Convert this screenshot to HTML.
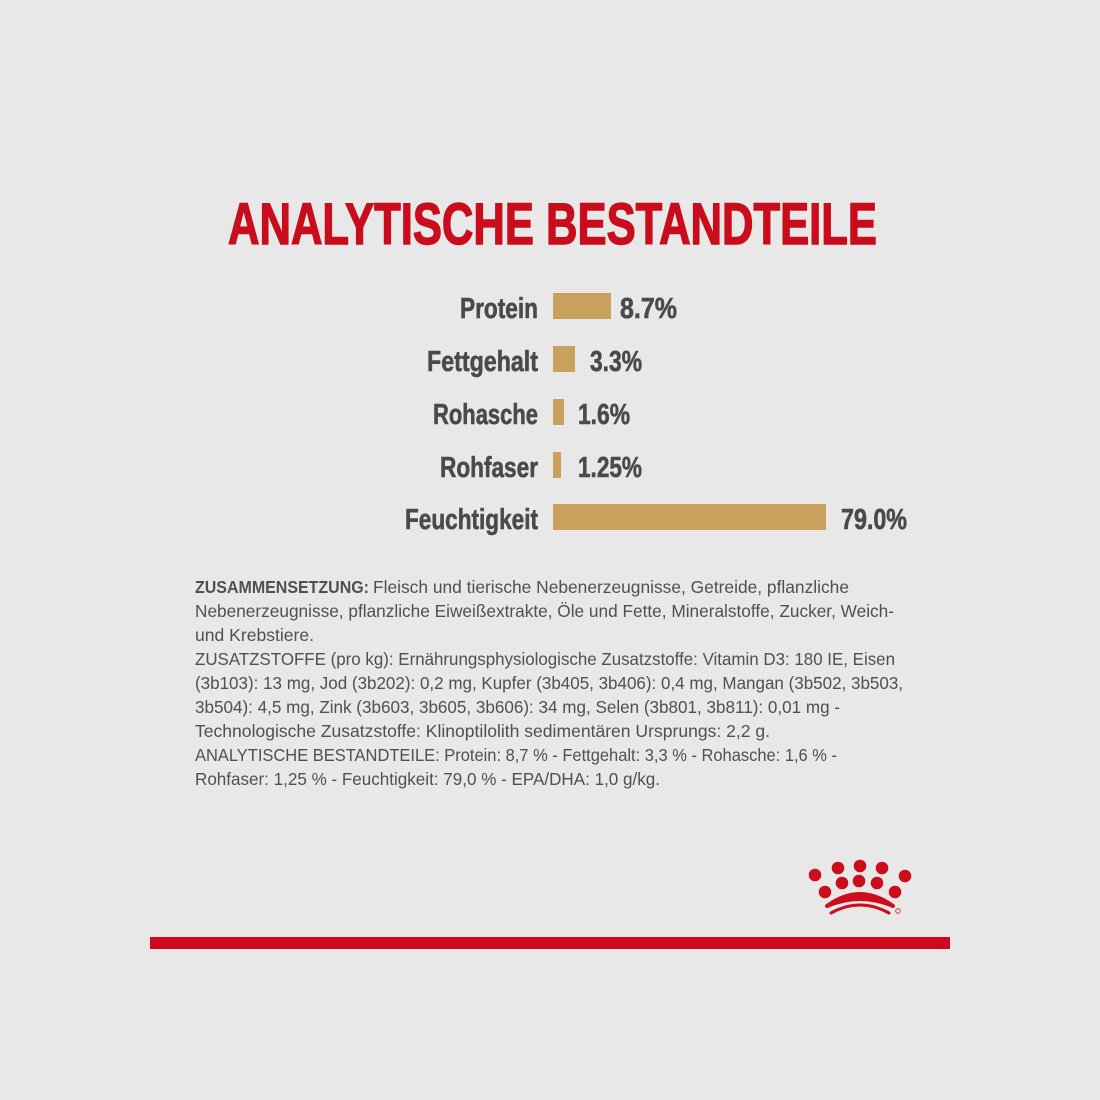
<!DOCTYPE html>
<html>
<head>
<meta charset="utf-8">
<style>
html,body{margin:0;padding:0;background:#e8e8e8;}
svg{display:block;}
</style>
</head>
<body>
<svg width="1100" height="1100" viewBox="0 0 1100 1100" xmlns="http://www.w3.org/2000/svg">
<rect x="0" y="0" width="1100" height="1100" fill="#e8e8e8"/>

<!-- Title -->
<text x="228" y="244" font-family="Liberation Sans, sans-serif" font-weight="bold" font-size="58" fill="#c90d1c" stroke="#c90d1c" stroke-width="1.4" textLength="649" lengthAdjust="spacingAndGlyphs">ANALYTISCHE BESTANDTEILE</text>

<!-- Bars -->
<g fill="#c9a15c">
<rect x="553" y="293" width="58" height="26"/>
<rect x="553" y="346" width="22" height="26"/>
<rect x="553" y="399" width="11" height="26"/>
<rect x="553" y="452" width="8" height="26"/>
<rect x="553" y="504" width="273" height="26"/>
</g>

<g font-family="Liberation Sans, sans-serif" font-weight="bold" font-size="29" fill="#4a4a4a" stroke="#4a4a4a" stroke-width="0.6">
<text x="460" y="318" textLength="78" lengthAdjust="spacingAndGlyphs">Protein</text>
<text x="427" y="371" textLength="111" lengthAdjust="spacingAndGlyphs">Fettgehalt</text>
<text x="433" y="424" textLength="105" lengthAdjust="spacingAndGlyphs">Rohasche</text>
<text x="440" y="477" textLength="98" lengthAdjust="spacingAndGlyphs">Rohfaser</text>
<text x="405" y="529" textLength="133" lengthAdjust="spacingAndGlyphs">Feuchtigkeit</text>

<text x="620" y="318" textLength="57" lengthAdjust="spacingAndGlyphs">8.7%</text>
<text x="590" y="371" textLength="52" lengthAdjust="spacingAndGlyphs">3.3%</text>
<text x="578" y="424" textLength="52" lengthAdjust="spacingAndGlyphs">1.6%</text>
<text x="578" y="477" textLength="64" lengthAdjust="spacingAndGlyphs">1.25%</text>
<text x="841" y="529" textLength="66" lengthAdjust="spacingAndGlyphs">79.0%</text>
</g>

<!-- Paragraph -->
<g font-family="Liberation Sans, sans-serif" font-size="17.5" fill="#505050">
<text x="195" y="593" font-weight="bold" textLength="174" lengthAdjust="spacingAndGlyphs">ZUSAMMENSETZUNG:</text>
<text x="373" y="593" textLength="476" lengthAdjust="spacingAndGlyphs">Fleisch und tierische Nebenerzeugnisse, Getreide, pflanzliche</text>
<text x="195" y="617" textLength="699" lengthAdjust="spacingAndGlyphs">Nebenerzeugnisse, pflanzliche Eiweißextrakte, Öle und Fette, Mineralstoffe, Zucker, Weich-</text>
<text x="195" y="641" textLength="119" lengthAdjust="spacingAndGlyphs">und Krebstiere.</text>
<text x="195" y="665" textLength="700" lengthAdjust="spacingAndGlyphs">ZUSATZSTOFFE (pro kg): Ernährungsphysiologische Zusatzstoffe: Vitamin D3: 180 IE, Eisen</text>
<text x="195" y="689" textLength="708" lengthAdjust="spacingAndGlyphs">(3b103): 13 mg, Jod (3b202): 0,2 mg, Kupfer (3b405, 3b406): 0,4 mg, Mangan (3b502, 3b503,</text>
<text x="195" y="713" textLength="645" lengthAdjust="spacingAndGlyphs">3b504): 4,5 mg, Zink (3b603, 3b605, 3b606): 34 mg, Selen (3b801, 3b811): 0,01 mg -</text>
<text x="195" y="737" textLength="575" lengthAdjust="spacingAndGlyphs">Technologische Zusatzstoffe: Klinoptilolith sedimentären Ursprungs: 2,2 g.</text>
<text x="195" y="761" textLength="642" lengthAdjust="spacingAndGlyphs">ANALYTISCHE BESTANDTEILE: Protein: 8,7 % - Fettgehalt: 3,3 % - Rohasche: 1,6 % -</text>
<text x="195" y="785" textLength="465" lengthAdjust="spacingAndGlyphs">Rohfaser: 1,25 % - Feuchtigkeit: 79,0 % - EPA/DHA: 1,0 g/kg.</text>
</g>

<!-- Crown logo -->
<g fill="#cc0d1c">
<circle cx="815" cy="875" r="6.3"/>
<circle cx="838" cy="868" r="6.3"/>
<circle cx="860" cy="866" r="6.3"/>
<circle cx="882" cy="868" r="6.3"/>
<circle cx="905" cy="876" r="6.3"/>
<circle cx="825" cy="892" r="6.3"/>
<circle cx="842" cy="883" r="6.3"/>
<circle cx="859" cy="881" r="6.3"/>
<circle cx="877" cy="883" r="6.3"/>
<circle cx="895" cy="892" r="6.3"/>
</g>
<path d="M827,906 Q860,882 893,906 Q860,892 827,906 Z" fill="#cc0d1c" stroke="#cc0d1c" stroke-width="4" stroke-linejoin="round"/>
<path d="M831,913 Q860,897 889,913" fill="none" stroke="#cc0d1c" stroke-width="3" stroke-linecap="round"/>
<circle cx="898" cy="911" r="2.3" fill="none" stroke="#cc0d1c" stroke-width="0.8"/>

<!-- Red bar -->
<rect x="150" y="937" width="800" height="12" fill="#d0091a"/>
</svg>
</body>
</html>
